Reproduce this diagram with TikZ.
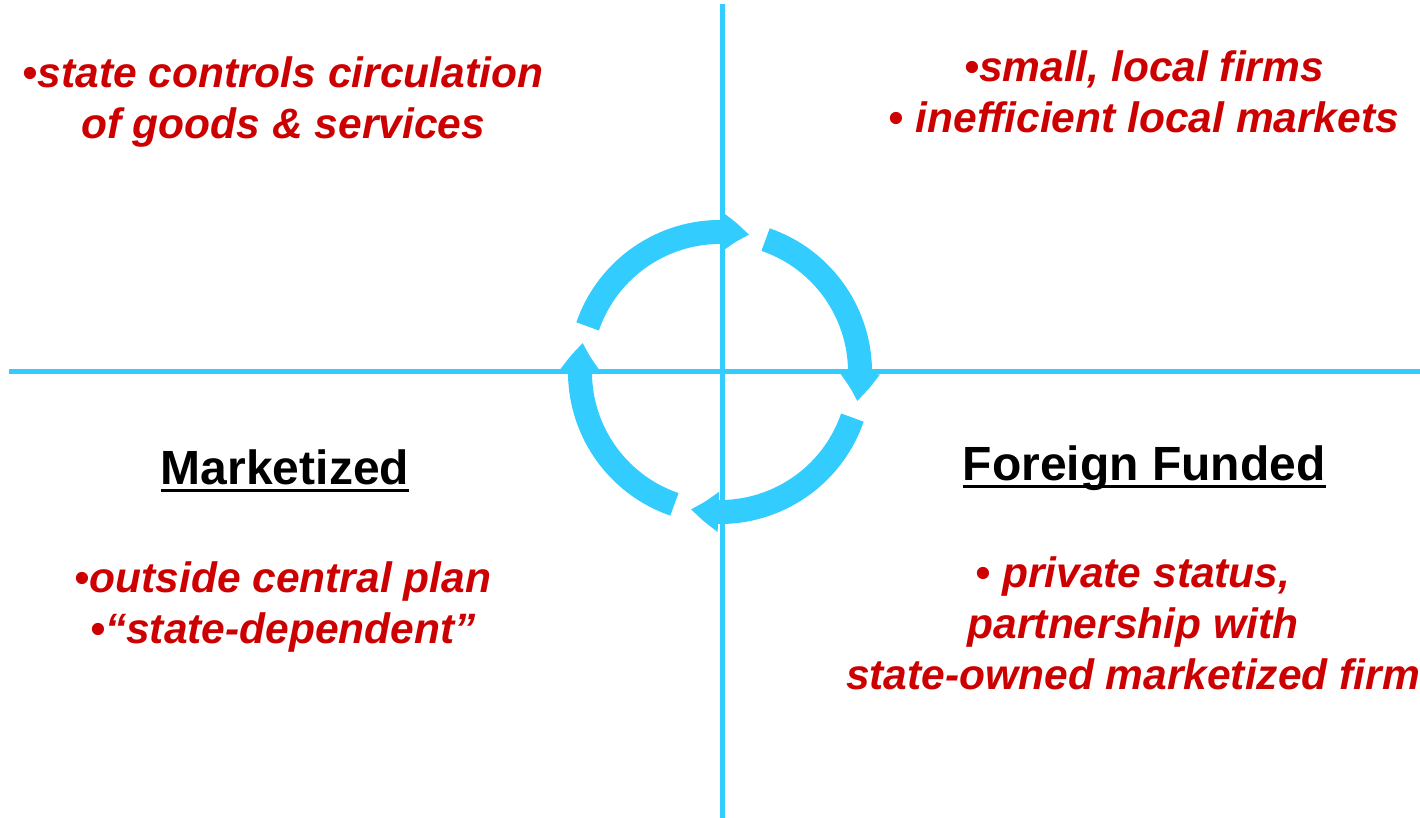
\documentclass[tikz,border=0pt]{standalone}
\usepackage{fontspec}
\setmainfont{Liberation Sans}
\usetikzlibrary{arrows.meta,bending}
\definecolor{axisblue}{HTML}{33CCFF}
\definecolor{notered}{HTML}{CC0000}
\tikzset{
  axisline/.style={axisblue,line width=5pt},
  cyclearrow/.style={axisblue,line width=24pt,-{Triangle[width=38pt,length=28pt,bend]}},
  notes/.style={notered,align=center,inner sep=0pt,anchor=north,
    font=\fontsize{42.5}{51}\selectfont\bfseries\itshape},
  heading/.style={black,inner sep=0pt,anchor=base,
    font=\fontsize{48}{58}\selectfont\bfseries},
  headline/.style={black,line width=3pt},
}
\begin{document}
\begin{tikzpicture}[x=1pt,y=1pt]
\useasboundingbox (0,0) rectangle (1420,818);
\clip (0,0) rectangle (1420,818);
% the cycle
\coordinate (c) at (720,446);
\foreach \a in {0,90,180,270}
  \draw[cyclearrow] (c) ++(161-\a:140) arc[start angle=161-\a,end angle=78-\a,radius=140];
% axes
\coordinate (top) at (722,814);
\coordinate (bottom) at (722,0);
\coordinate (left) at (9,446);
\coordinate (right) at (1420,446);
\draw[axisline] (top) -- (bottom);
\draw[axisline] (left) -- (right);
% quadrants
\node[notes] (planned) at (283,761) {•state controls circulation\\of goods \& services};
\node[notes] (local) at (1144,767) {•small, local firms\\• inefficient local markets};
\node[heading] (mkt) at (285,333) {Marketized};
\draw[headline] ([yshift=-6pt]mkt.base west) -- ([yshift=-6pt]mkt.base east);
\node[notes] (mktnotes) at (283,256) {•outside central plan\\•“state-dependent”};
\node[heading] (forf) at (1144,337) {Foreign Funded};
\draw[headline] ([yshift=-6pt]forf.base west) -- ([yshift=-6pt]forf.base east);
\node[notes] (fornotes) at (1133,261) {• private status,\\partnership with\\state-owned marketized firm};
\end{tikzpicture}
\end{document}
